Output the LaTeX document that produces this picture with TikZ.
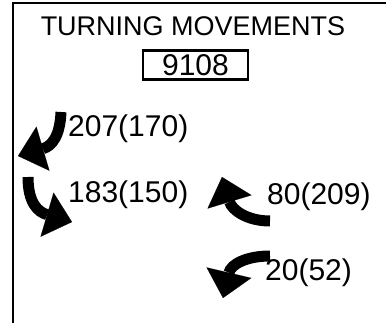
\documentclass[tikz,border=0pt]{standalone}
\usepackage{fontspec}
\setmainfont{Liberation Sans}
\usetikzlibrary{arrows.meta}
\usetikzlibrary{positioning}

\begin{document}
\begin{tikzpicture}[
    x=1pt, y=-1pt,
    every node/.style={inner sep=0pt},
    count/.style={anchor=west, font=\fontsize{30}{30}\selectfont},
    turn/.style={line width=11pt, -{Triangle[length=26pt,width=46pt,line width=0.1pt]}},
    frame/.style={line width=2.5pt}
]
\useasboundingbox (0,0) rectangle (386,323);

% Frame
\draw[frame] (13,323) -- (13,3) -- (386,3);

% Heading
\node[font=\fontsize{27}{28}\selectfont] (title) at (193,26) {TURNING MOVEMENTS};
\node[draw, line width=2.5pt, minimum width=105pt, minimum height=29pt,
      font=\fontsize{30}{30}\selectfont] (station) at (195.5,65) {9108};

% Counts
\node[count] (southleft) at (68,129) {207(170)};
\node[count] (southright) at (68,195) {183(150)};
\node[count] (westleft) at (267,197) {80(209)};
\node[count] (westright) at (265,273) {20(52)};

% Arrows
\draw[turn] (61,112) .. controls (60,136) and (52,146) .. (18,156);
\draw[turn] (28,177) .. controls (28,203) and (38,212) .. (72,222);
\draw[turn] (270,221) .. controls (247,221) and (232,210) .. (222,177);
\draw[turn] (270,256) .. controls (247,256) and (231,264) .. (223,298);

\end{tikzpicture}
\end{document}
